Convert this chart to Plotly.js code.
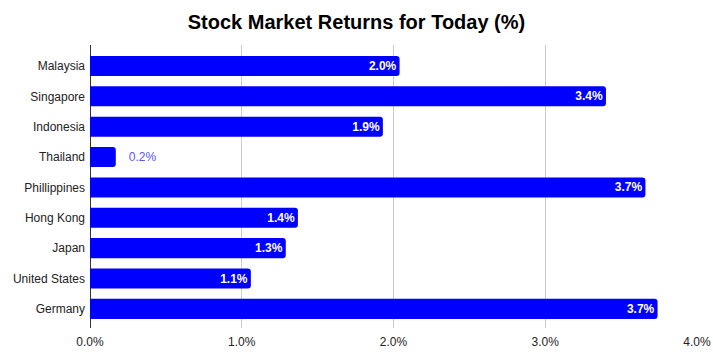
<!DOCTYPE html>
<html>
<head>
<meta charset="utf-8">
<script src="https://cdn.plot.ly/plotly-3.0.1.min.js"></script>
<style>html,body{margin:0;padding:0;background:#fff;}#chart{width:713px;height:359px;}</style>
</head>
<body>
<div id="chart"></div>
<script>
var countries = ["Malaysia", "Singapore", "Indonesia", "Thailand", "Phillippines", "Hong Kong", "Japan", "United States", "Germany"];
var returns = [2.04, 3.40, 1.93, 0.17, 3.66, 1.37, 1.29, 1.06, 3.74];
var xTickVals = [0, 1, 2, 3, 4];
var xTickText = ["0.0%", "1.0%", "2.0%", "3.0%", "4.0%"];

var isOutside = returns.map(function (v) { return v < 0.5; });
var textPos = isOutside.map(function (o) { return o ? "outside" : "inside"; });
var textTpl = isOutside.map(function (o) {
  return o ? "\u00a0\u00a0\u00a0%{x:.1f}%" : "<b>%{x:.1f}%</b>";
});

var FONT = "Liberation Sans, Arial, sans-serif";

var trace = {
  type: "bar",
  orientation: "h",
  y: countries,
  x: returns,
  marker: { color: "#0000ff", cornerradius: 3 },
  texttemplate: textTpl,
  textposition: textPos,
  insidetextanchor: "end",
  insidetextfont: { family: FONT, size: 12, color: "#ffffff" },
  outsidetextfont: { family: FONT, size: 12, color: "#5555ff" },
  constraintext: "none",
  cliponaxis: false,
  hoverinfo: "none"
};

var layout = {
  width: 713,
  height: 359,
  margin: { l: 89.5, r: 16.3, t: 45, b: 31 },
  paper_bgcolor: "#ffffff",
  plot_bgcolor: "#ffffff",
  showlegend: false,
  bargap: 0.34,
  title: {
    text: "<b>Stock Market Returns for Today (%)</b>",
    font: { family: FONT, size: 20, color: "#000000" },
    x: 0.5,
    xanchor: "center",
    y: 0.94,
    yanchor: "middle",
    yref: "container"
  },
  xaxis: {
    range: [0, 4],
    tickvals: xTickVals,
    ticktext: xTickText,
    showgrid: true,
    gridcolor: "#cccccc",
    gridwidth: 1,
    zeroline: true,
    zerolinecolor: "#333333",
    zerolinewidth: 1,
    showline: false,
    ticks: "",
    ticklabelstandoff: 5,
    tickfont: { family: FONT, size: 12, color: "#222222" },
    fixedrange: true
  },
  yaxis: {
    type: "category",
    categoryorder: "array",
    categoryarray: countries,
    range: [8.63, -0.69],
    showgrid: false,
    zeroline: false,
    showline: false,
    ticks: "",
    ticklabelstandoff: 4,
    tickfont: { family: FONT, size: 12, color: "#222222" },
    fixedrange: true
  }
};

Plotly.newPlot("chart", [trace], layout, { displayModeBar: false, staticPlot: true });
</script>
</body>
</html>
